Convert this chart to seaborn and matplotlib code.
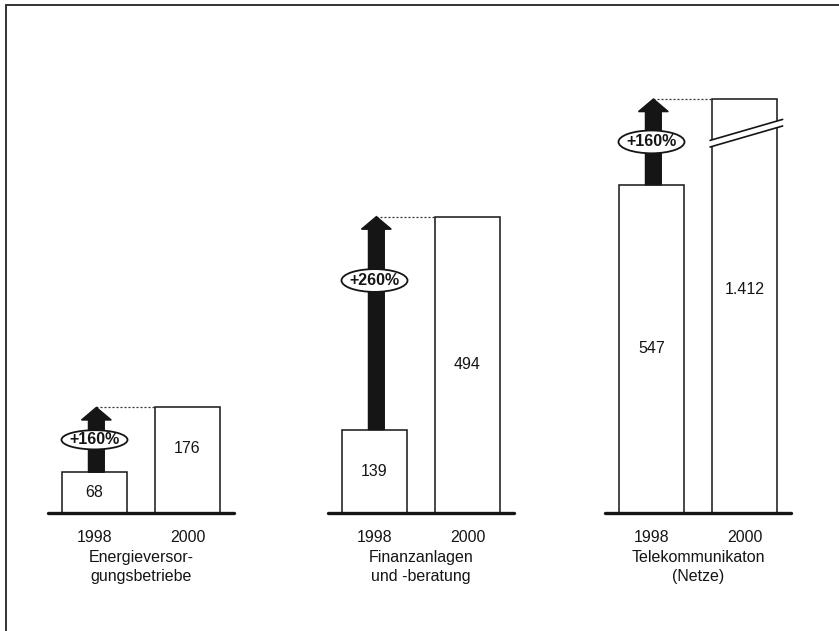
import matplotlib
matplotlib.use("Agg")
import matplotlib.pyplot as plt
from matplotlib.patches import Ellipse, Polygon, FancyArrow
from matplotlib.lines import Line2D
import seaborn as sns
import pandas as pd

# Data
years = ["1998", "2000"]
sectors = ["Energieversor-\ngungsbetriebe",
           "Finanzanlagen\nund -beratung",
           "Telekommunikaton\n(Netze)"]
values_1998 = [68, 139, 547]
values_2000 = [176, 494, 1412]
growth_labels = ["+160%", "+260%", "+160%"]

# Bars taller than this are drawn cut with a break mark
BREAK_CAP = 690
YMAX = 820

sns.set_theme(style="white")
plt.rcParams["font.family"] = ["Liberation Sans", "DejaVu Sans"]

W, H = 839, 631
fig = plt.figure(figsize=(W / 100, H / 100), dpi=100)
fig.patch.set_facecolor("white")

INK = "#151515"
panel_left = [48, 328, 605]
label_frac = [[0.5, 0.61], [0.5, 0.5], [0.5, 0.54]]
ellipse_frac = [0.5, 0.7, 0.5]
ellipse_h = [32, 38, 38]


def fmt(v):
    return f"{v:,}".replace(",", ".")


for i in range(3):
    ax = fig.add_axes([panel_left[i] / W, 118 / H, 186 / W, 492 / H])
    vals = [values_1998[i], values_2000[i]]
    shown = [min(v, BREAK_CAP) for v in vals]
    df = pd.DataFrame({"year": years, "shown": shown})
    sns.barplot(data=df, x="year", y="shown", color="white", saturation=1,
                edgecolor=INK, linewidth=1.1, width=0.7, ax=ax)
    ax.set_xlim(-0.5, 1.5)
    ax.set_ylim(0, YMAX)
    ax.set_facecolor("none")
    sns.despine(ax=ax, left=True, bottom=True, top=True, right=True)
    ax.set_yticks([])
    ax.set_ylabel("")
    ax.axhline(0, color=INK, lw=2.4, zorder=6, clip_on=False)
    ax.tick_params(axis="x", length=0, pad=12, labelsize=11.5, labelcolor=INK)
    ax.set_xlabel(sectors[i], fontsize=11.5, labelpad=4, linespacing=1.35,
                  color=INK)

    # value labels inside the bars
    for j in range(2):
        ax.text(j, shown[j] * label_frac[i][j], fmt(vals[j]), ha="center",
                va="center", fontsize=11.5, color=INK, zorder=7)

    # growth arrow from the 1998 bar up to the 2000 level
    lo, hi = shown[0], shown[1]
    ax_x = 0.02
    arrow = FancyArrow(ax_x, lo, 0, hi - lo, width=0.17, head_width=0.32,
                       head_length=21, length_includes_head=True,
                       color=INK, zorder=3)
    ax.add_patch(arrow)
    ax.plot([ax_x, 0.65], [hi, hi], ls=(0, (1.6, 1.6)), lw=0.9,
            color="#333333", zorder=2)

    ey = lo + ellipse_frac[i] * (hi - lo)
    ax.add_patch(Ellipse((0.0, ey), width=0.71, height=ellipse_h[i],
                         facecolor="white", edgecolor=INK, lw=1.3, zorder=4))
    ax.text(0.0, ey, growth_labels[i], ha="center", va="center",
            fontsize=11.5, fontweight="bold", color=INK, zorder=5)

    # break mark on a cut bar
    if vals[1] > BREAK_CAP:
        x0, x1 = 0.63, 1.41
        y0, y1 = 610, 645
        gap = 11
        ax.add_patch(Polygon([(x0, y0), (x1, y1), (x1, y1 + gap), (x0, y0 + gap)],
                             closed=True, facecolor="white", edgecolor="none",
                             zorder=4, clip_on=False))
        for dy in (0, gap):
            ax.plot([x0, x1], [y0 + dy, y1 + dy], color=INK, lw=1.2,
                    zorder=5, clip_on=False)

# frame lines along the top and left edges
fig.add_artist(Line2D([6 / W, 6 / W], [0, 1 - 5 / H], color="#333333", lw=1.4,
                      transform=fig.transFigure))
fig.add_artist(Line2D([6 / W, 1], [1 - 5 / H, 1 - 5 / H], color="#333333", lw=1.4,
                      transform=fig.transFigure))

fig.savefig("out.png", dpi=100, facecolor="white")
